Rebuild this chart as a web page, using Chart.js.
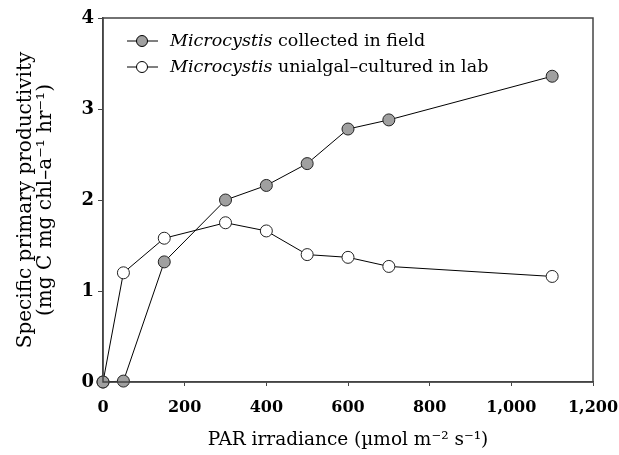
<!DOCTYPE html>
<html>
<head>
<meta charset="utf-8">
<script src="https://cdn.jsdelivr.net/npm/chart.js@4"></script>
<style>
  html, body { margin: 0; padding: 0; background: #fff; }
  #wrap { width: 619px; height: 455px; }
</style>
</head>
<body>
<div id="wrap"><canvas id="c" width="619" height="455"></canvas></div>
<script>
const irradiance = [0, 50, 150, 300, 400, 500, 600, 700, 1100];
const fieldValues = [0, 0.01, 1.32, 2.0, 2.16, 2.4, 2.78, 2.88, 3.36];
const labValues = [0, 1.2, 1.58, 1.75, 1.66, 1.4, 1.37, 1.27, 1.16];
const seriesNames = ['collected in field', 'unialgal\u2013cultured in lab'];
const xTicks = [0, 200, 400, 600, 800, 1000, 1200];
const yTicks = [0, 1, 2, 3, 4];

const serif = '"DejaVu Serif", "Liberation Serif", serif';

const toPoints = vals => irradiance.map((x, i) => ({ x, y: vals[i] }));

// frame around the plot + legend with italic genus name
const framePlugin = {
  id: 'frame',
  afterDraw(chart) {
    const { ctx, chartArea: a } = chart;
    ctx.save();
    ctx.strokeStyle = '#444';
    ctx.lineWidth = 1.5;
    ctx.strokeRect(a.left, a.top, a.right - a.left, a.bottom - a.top);

    const rows = [
      { y: 41, fill: '#a0a0a0' },
      { y: 67, fill: '#fff' }
    ];
    rows.forEach((r, i) => {
      const x0 = 127, x1 = 158, cx = 142;
      ctx.strokeStyle = '#000';
      ctx.lineWidth = 1;
      ctx.beginPath(); ctx.moveTo(x0, r.y); ctx.lineTo(x1, r.y); ctx.stroke();
      ctx.beginPath(); ctx.arc(cx, r.y, 5.5, 0, Math.PI * 2);
      ctx.fillStyle = r.fill; ctx.fill(); ctx.stroke();
      ctx.fillStyle = '#000';
      ctx.textBaseline = 'middle';
      ctx.font = 'italic 17.5px ' + serif;
      ctx.fillText('Microcystis', 170, r.y);
      const w = ctx.measureText('Microcystis').width;
      ctx.font = '17.5px ' + serif;
      ctx.fillText(' ' + seriesNames[i], 170 + w, r.y);
    });
    ctx.restore();
  }
};

new Chart(document.getElementById('c'), {
  type: 'line',
  data: {
    datasets: [
      {
        label: 'Microcystis ' + seriesNames[0],
        data: toPoints(fieldValues),
        borderColor: '#000', borderWidth: 1,
        pointRadius: 6, pointBackgroundColor: '#a0a0a0', pointBorderColor: '#222', pointBorderWidth: 1,
        clip: false, tension: 0
      },
      {
        label: 'Microcystis ' + seriesNames[1],
        data: toPoints(labValues),
        borderColor: '#000', borderWidth: 1,
        pointRadius: 6, pointBackgroundColor: '#fff', pointBorderColor: '#222', pointBorderWidth: 1,
        clip: false, tension: 0
      }
    ]
  },
  options: {
    responsive: false,
    animation: false,
    layout: { padding: { top: 18, right: 0, left: 12, bottom: 0 } },
    plugins: { legend: { display: false }, tooltip: { enabled: false } },
    scales: {
      x: {
        type: 'linear', min: 0, max: 1200,
        afterBuildTicks: s => { s.ticks = xTicks.map(v => ({ value: v })); },
        afterFit: s => { s.height = 73; s.paddingRight = 26; s.paddingLeft = 0; },
        ticks: {
          color: '#000', font: { family: serif, size: 16, weight: 'bold' }, padding: 12,
          callback: v => v.toLocaleString('en-US')
        },
        grid: { drawOnChartArea: false, tickLength: 4, color: '#444' },
        border: { color: '#444', width: 1.5 },
        title: {
          display: true, text: 'PAR irradiance (\u00b5mol m\u207b\u00b2 s\u207b\u00b9)',
          color: '#000', font: { family: serif, size: 18.5 }, padding: { top: 6 }
        }
      },
      y: {
        type: 'linear', min: 0, max: 4,
        afterBuildTicks: s => { s.ticks = yTicks.map(v => ({ value: v })); },
        afterFit: s => { s.width = 91; },
        ticks: { color: '#000', font: { family: serif, size: 18, weight: 'bold' }, padding: 4 },
        grid: { drawOnChartArea: false, tickLength: 5, color: '#444' },
        border: { color: '#444', width: 1.5 },
        title: {
          display: true,
          text: ['Specific primary productivity', '(mg C mg chl\u2013a\u207b\u00b9 hr\u207b\u00b9)'],
          color: '#000', font: { family: serif, size: 20, lineHeight: 1.0 }, padding: { bottom: 6 }
        }
      }
    }
  },
  plugins: [framePlugin]
});
</script>
</body>
</html>
